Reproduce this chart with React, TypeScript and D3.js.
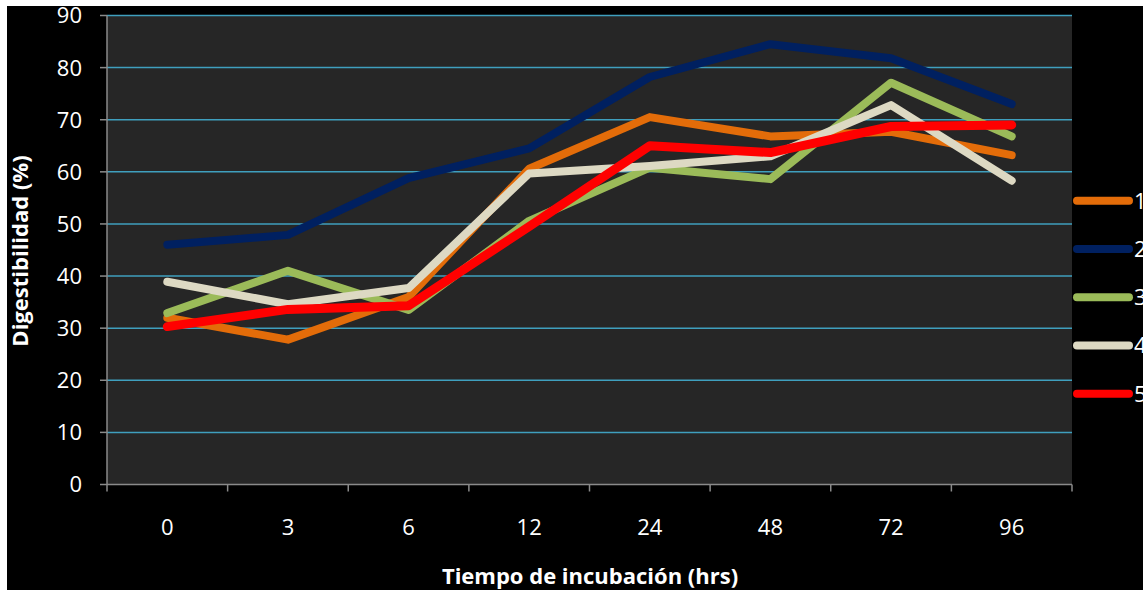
import React, { useEffect, useRef } from "react";
import * as d3 from "d3";

const categories = ["0", "3", "6", "12", "24", "48", "72", "96"];
const seriesNames = ["1", "2", "3", "4", "5"];
const series1 = [32.0, 27.8, 36.0, 60.6, 70.5, 66.8, 67.7, 63.2];
const series2 = [46.0, 47.9, 58.8, 64.5, 78.2, 84.5, 81.8, 73.0];
const series3 = [32.9, 41.0, 33.5, 50.6, 60.8, 58.6, 77.1, 66.8];
const series4 = [38.9, 34.6, 37.7, 59.7, 61.1, 63.0, 72.8, 58.3];
const series5 = [30.3, 33.6, 34.3, 49.5, 65.0, 63.7, 68.7, 69.0];
const yTicks = [0, 10, 20, 30, 40, 50, 60, 70, 80, 90];
const colors = ["#E36C09", "#002060", "#9BBB59", "#DDD9C3", "#FF0000"];

const W = 1143;
const H = 590;
const plot = { left: 107, right: 1072, top: 15.5, bottom: 484.5 };
const FONT = "'Open Sans', sans-serif";

export default function App() {
  const ref = useRef<SVGSVGElement>(null);
  useEffect(() => {
    const svg = d3.select(ref.current);
    svg.selectAll("*").remove();
    svg.append("rect").attr("x", 0).attr("y", 0).attr("width", W).attr("height", H).attr("fill", "#fff");
    svg.append("rect").attr("x", 7).attr("y", 6).attr("width", W - 7).attr("height", 584).attr("fill", "#000");

    const x = d3.scaleBand().domain(categories).range([plot.left, plot.right]);
    const y = d3.scaleLinear().domain([0, 90]).range([plot.bottom, plot.top]);

    svg.append("rect")
      .attr("x", plot.left).attr("y", plot.top)
      .attr("width", plot.right - plot.left).attr("height", plot.bottom - plot.top)
      .attr("fill", "#262626");

    // gridlines
    svg.append("g").selectAll("line").data(yTicks.filter((t) => t > 0)).join("line")
      .attr("x1", plot.left).attr("x2", plot.right)
      .attr("y1", (d) => y(d)).attr("y2", (d) => y(d))
      .attr("stroke", "#3F9FBE").attr("stroke-width", 1.5);

    // y axis
    svg.append("line").attr("x1", plot.left).attr("x2", plot.left)
      .attr("y1", plot.top).attr("y2", plot.bottom)
      .attr("stroke", "#8a8a8a").attr("stroke-width", 1.5);
    svg.append("g").selectAll("line").data(yTicks).join("line")
      .attr("x1", plot.left - 7).attr("x2", plot.left)
      .attr("y1", (d) => y(d)).attr("y2", (d) => y(d))
      .attr("stroke", "#8a8a8a").attr("stroke-width", 1.5);
    svg.append("g").selectAll("text").data(yTicks).join("text")
      .attr("x", 82).attr("y", (d) => y(d))
      .attr("dy", "0.36em").attr("text-anchor", "end")
      .attr("fill", "#fff").attr("font-family", FONT).attr("font-size", 22)
      .text((d) => String(d));

    // x axis
    svg.append("line").attr("x1", plot.left).attr("x2", plot.right)
      .attr("y1", plot.bottom).attr("y2", plot.bottom)
      .attr("stroke", "#8a8a8a").attr("stroke-width", 1.5);
    const bounds = categories.map((c) => x(c) as number).concat([plot.right]);
    svg.append("g").selectAll("line").data(bounds).join("line")
      .attr("x1", (d) => d).attr("x2", (d) => d)
      .attr("y1", plot.bottom).attr("y2", plot.bottom + 7)
      .attr("stroke", "#8a8a8a").attr("stroke-width", 1.5);
    svg.append("g").selectAll("text").data(categories).join("text")
      .attr("x", (d) => (x(d) as number) + x.bandwidth() / 2)
      .attr("y", 527).attr("dy", "0.36em").attr("text-anchor", "middle")
      .attr("fill", "#fff").attr("font-family", FONT).attr("font-size", 22)
      .text((d) => d);

    // titles
    svg.append("text").attr("x", 590).attr("y", 584).attr("text-anchor", "middle")
      .attr("fill", "#fff").attr("font-family", FONT).attr("font-weight", "bold").attr("font-size", 22)
      .text("Tiempo de incubación (hrs)");
    svg.append("text").attr("transform", "translate(28,251) rotate(-90)").attr("text-anchor", "middle")
      .attr("fill", "#fff").attr("font-family", FONT).attr("font-weight", "bold").attr("font-size", 22)
      .text("Digestibilidad (%)");

    // lines
    const all = [series1, series2, series3, series4, series5];
    const line = d3.line<number>()
      .x((_, i) => (x(categories[i]) as number) + x.bandwidth() / 2)
      .y((d) => y(d));
    all.forEach((s, i) => {
      svg.append("path").attr("d", line(s) as string)
        .attr("fill", "none").attr("stroke", colors[i])
        .attr("stroke-width", i === 4 ? 9 : 8)
        .attr("stroke-linecap", "round").attr("stroke-linejoin", "round");
    });

    // legend
    const ly = d3.scalePoint().domain(seriesNames).range([200.7, 393.7]);
    const lg = svg.append("g");
    lg.selectAll("line").data(seriesNames).join("line")
      .attr("x1", 1077).attr("x2", 1129)
      .attr("y1", (d) => ly(d) as number).attr("y2", (d) => ly(d) as number)
      .attr("stroke", (_, i) => colors[i]).attr("stroke-width", 8).attr("stroke-linecap", "round");
    lg.selectAll("text").data(seriesNames).join("text")
      .attr("x", 1134).attr("y", (d) => ly(d) as number).attr("dy", "0.36em")
      .attr("fill", "#fff").attr("font-family", FONT).attr("font-size", 22)
      .text((d) => d);
  }, []);
  return (
    <svg ref={ref} width={W} height={H} style={{ position: "absolute", left: 0, top: 0, display: "block" }} />
  );
}
